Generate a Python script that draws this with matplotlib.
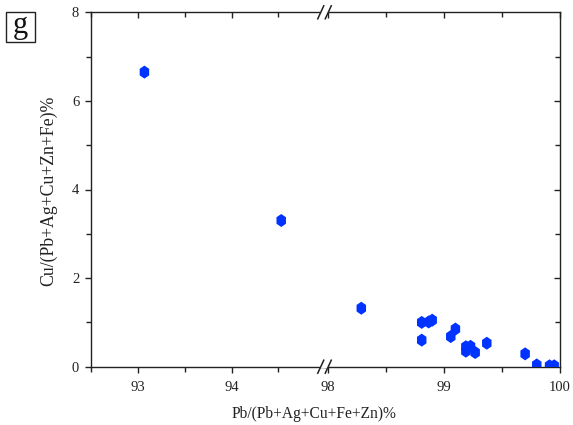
import matplotlib
matplotlib.use("Agg")
import numpy as np
import matplotlib.pyplot as plt
from matplotlib.lines import Line2D
from matplotlib.patches import Rectangle

plt.rcParams['font.family'] = ['Liberation Serif', 'DejaVu Serif']

# Pb/(Pb+Ag+Cu+Fe+Zn)% and Cu/(Pb+Ag+Cu+Zn+Fe)% for each analysis
pb_ratio = [93.07, 94.53, 98.29, 98.81, 98.87, 98.90, 98.81, 99.06, 99.10,
            99.19, 99.23, 99.19, 99.27, 99.37, 99.70, 99.80, 99.91, 99.95]
cu_ratio = [6.65, 3.30, 1.32, 1.00, 1.01, 1.05, 0.60, 0.68, 0.85,
            0.45, 0.46, 0.35, 0.32, 0.53, 0.29, 0.04, 0.02, 0.02]

left_xlim = (92.5, 95.0)
right_xlim = (97.98, 100.0)
left_major = [93, 94]
left_minor = [92.5, 93.5, 94.5]
right_major = [98, 99, 100]
right_minor = [98.5, 99.5]
y_major = [0, 2, 4, 6, 8]
y_minor = [1, 3, 5, 7]

W, H = 573, 425
fig = plt.figure(figsize=(W / 100, H / 100), dpi=100)

x0, x1 = 91 / W, 560 / W
y0, y1 = 1 - 366.7 / H, 1 - 12.3 / H
wid = x1 - x0
half = wid * 0.4995
ax1 = fig.add_axes([x0, y0, half, y1 - y0])
ax2 = fig.add_axes([x0 + half, y0, wid - half, y1 - y0])

# slightly tall, point-up hexagon marker
ang = np.deg2rad(90 + 60 * np.arange(6))
hexagon = np.column_stack([0.84 * np.cos(ang), np.sin(ang)])

color = '#0033ff'
for ax, lim in ((ax1, left_xlim), (ax2, right_xlim)):
    ax.scatter(pb_ratio, cu_ratio, marker=hexagon, s=88, color=color,
               edgecolors='none', zorder=3, clip_on=True)
    ax.set_xlim(*lim)
    ax.set_ylim(0, 8)
    for sp in ax.spines.values():
        sp.set_linewidth(1.0)
        sp.set_color('#222222')

ax1.spines['right'].set_visible(False)
ax2.spines['left'].set_visible(False)

ax1.set_xticks(left_major)
ax1.set_xticks(left_minor, minor=True)
ax2.set_xticks(right_major)
ax2.set_xticks(right_minor, minor=True)

ax1.set_yticks(y_major)
ax1.set_yticks(y_minor, minor=True)
ax2.set_yticks([2, 4, 6])
ax2.set_yticks(y_minor, minor=True)

tick_kw = dict(width=1.0, color='#222222', labelsize=10.5, labelcolor='#222222')
for ax in (ax1, ax2):
    ax.tick_params(axis='x', which='both', bottom=True, top=True,
                   direction='out', **tick_kw)
    ax.tick_params(axis='x', which='major', length=4.5, pad=6)
    ax.tick_params(axis='x', which='minor', length=3.5)

# top ticks point inward
for ax in (ax1, ax2):
    for tk in ax.xaxis.get_major_ticks() + ax.xaxis.get_minor_ticks():
        tk.tick2line.set_marker(3)  # TICKDOWN

ax1.tick_params(axis='y', which='both', left=True, right=False,
                direction='out', **tick_kw)
ax1.tick_params(axis='y', which='major', length=4.5, pad=4)
ax1.tick_params(axis='y', which='minor', length=3.5)
ax2.tick_params(axis='y', which='both', left=False, right=True,
                labelleft=False, labelright=False, direction='in', **tick_kw)
ax2.tick_params(axis='y', which='major', length=4.5)
ax2.tick_params(axis='y', which='minor', length=3.5)

# axis labels
fig.text(314 / W, 1 - 414 / H, 'Pb/(Pb+Ag+Cu+Fe+Zn)%',
         ha='center', va='center', fontsize=11.2, color='#222222')
fig.text(48.5 / W, 1 - 191 / H, 'Cu/(Pb+Ag+Cu+Zn+Fe)%', rotation=90,
         ha='center', va='center', fontsize=12.8, color='#222222')

# axis break marks
bx = x0 + half
for yb in (y0, y1):
    fig.patches.append(Rectangle((bx - 5 / W, yb - 1.5 / H), 8 / W, 3 / H,
                                 transform=fig.transFigure, facecolor='white',
                                 edgecolor='none', zorder=5))
    for dx in (-4.5, 3.0):
        cx = bx + dx / W
        fig.lines.append(Line2D([cx - 3 / W, cx + 3 / W],
                                [yb - 6.5 / H, yb + 6.5 / H],
                                transform=fig.transFigure, color='#222222',
                                lw=1.1, zorder=6))

# panel letter in a square frame
fig.patches.append(Rectangle((5.7 / W, 1 - 41.5 / H), 29.3 / W, 29.8 / H,
                             transform=fig.transFigure, facecolor='white',
                             edgecolor='#222222', linewidth=1.0))
fig.text(20.5 / W, 1 - 25 / H, 'g', ha='center', va='center', fontsize=22,
         color='#111111')

fig.savefig('out.png', dpi=100, facecolor='white')
